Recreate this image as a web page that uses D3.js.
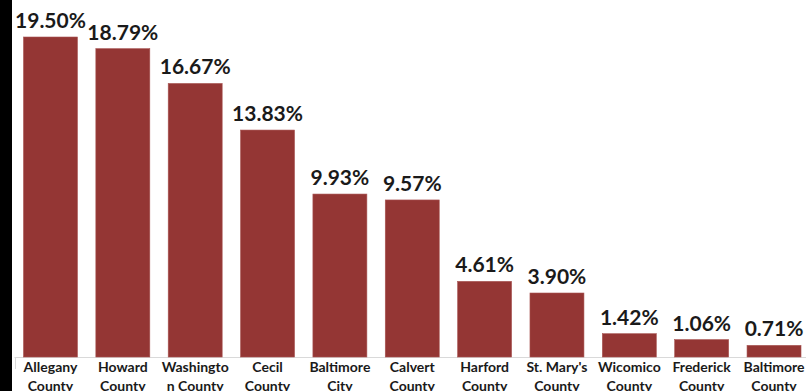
<!DOCTYPE html>
<html>
<head>
<meta charset="utf-8">
<script src="https://cdn.jsdelivr.net/npm/d3@7"></script>
<style>
  html, body { margin: 0; padding: 0; background: #fff; }
  svg { display: block; }
</style>
</head>
<body>
<svg id="chart" width="806" height="391"></svg>
<script>
// County shares, in percent
const categories = [
  "Allegany County", "Howard County", "Washington County", "Cecil County",
  "Baltimore City", "Calvert County", "Harford County", "St. Mary's County",
  "Wicomico County", "Frederick County", "Baltimore County"
];
const values = [19.50, 18.79, 16.67, 13.83, 9.93, 9.57, 4.61, 3.90, 1.42, 1.06, 0.71];
// Category labels as they wrap under each bar
const labelLines = [
  ["Allegany", "County"], ["Howard", "County"], ["Washingto", "n County"],
  ["Cecil", "County"], ["Baltimore", "City"], ["Calvert", "County"],
  ["Harford", "County"], ["St. Mary's", "County"], ["Wicomico", "County"],
  ["Frederick", "County"], ["Baltimore", "County"]
];

const W = 806, H = 391;
const svg = d3.select("#chart");
const baseY = 357;

const x = d3.scaleBand()
  .domain(categories)
  .range([14.3, 810.2])
  .paddingInner(0.254)
  .paddingOuter(0.127);

const y = d3.scaleLinear()
  .domain([0, 19.5])
  .range([baseY, 37]);

// dark frame strip on the left edge
svg.append("rect")
  .attr("x", 0).attr("y", 0)
  .attr("width", 12).attr("height", H)
  .attr("fill", "#000");

// category axis line and left stub
svg.append("line")
  .attr("x1", 14.5).attr("x2", W)
  .attr("y1", baseY + 0.5).attr("y2", baseY + 0.5)
  .attr("stroke", "#d9d9d9").attr("stroke-width", 1);
svg.append("line")
  .attr("x1", 15.5).attr("x2", 15.5)
  .attr("y1", baseY).attr("y2", baseY + 12)
  .attr("stroke", "#d9d9d9").attr("stroke-width", 1);

const data = categories.map((c, i) => ({ c, v: values[i], lines: labelLines[i] }));

svg.append("g").selectAll("rect")
  .data(data)
  .join("rect")
  .attr("x", d => x(d.c))
  .attr("y", d => y(d.v))
  .attr("width", x.bandwidth())
  .attr("height", d => baseY - y(d.v))
  .attr("fill", "#943634")
  .attr("stroke", "#a85553")
  .attr("stroke-width", 0.6);

// value labels above the bars
svg.append("g").selectAll("text")
  .data(data)
  .join("text")
  .attr("x", d => x(d.c) + x.bandwidth() / 2)
  .attr("y", d => y(d.v) - 9)
  .attr("text-anchor", "middle")
  .attr("font-family", "Lato, 'Open Sans', sans-serif")
  .attr("font-weight", "bold")
  .attr("font-size", 21)
  .attr("fill", "#1a1a1a")
  .text(d => d.v.toFixed(2) + "%");

// category labels
const cat = svg.append("g").selectAll("text")
  .data(data)
  .join("text")
  .attr("x", d => x(d.c) + x.bandwidth() / 2)
  .attr("y", 372)
  .attr("text-anchor", "middle")
  .attr("font-family", "Lato, 'Open Sans', sans-serif")
  .attr("font-weight", "bold")
  .attr("font-size", 14)
  .attr("fill", "#1a1a1a");
cat.selectAll("tspan")
  .data(d => d.lines.map(l => ({ l, cx: x(d.c) + x.bandwidth() / 2 })))
  .join("tspan")
  .attr("x", t => t.cx)
  .attr("dy", (t, i) => i === 0 ? 0 : 18.5)
  .text(t => t.l);
</script>
</body>
</html>
